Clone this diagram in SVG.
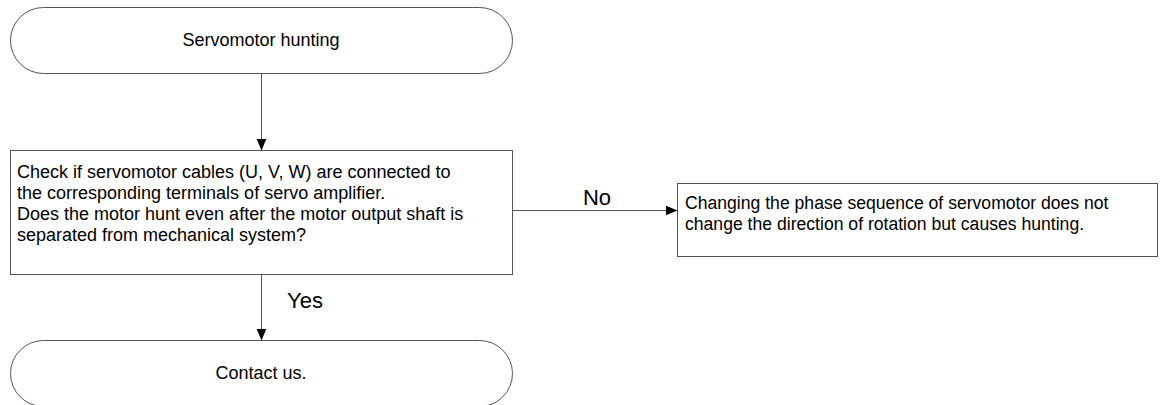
<svg xmlns="http://www.w3.org/2000/svg" width="1167" height="405" viewBox="0 0 1167 405">
<defs>
<style>
.shape{fill:#fff;stroke:#555;stroke-width:1}
.conn{stroke:#555;stroke-width:1;fill:none}
text{font-family:"Liberation Sans",Arial,sans-serif;font-size:18px;fill:#000}
.c{text-anchor:middle}
.lbl{font-size:22px}
.r{font-size:17.6px}
</style>
<marker id="ah" viewBox="0 0 12 10" refX="12" refY="5" markerWidth="12" markerHeight="10" markerUnits="userSpaceOnUse" orient="auto">
<path d="M0,0 L12,5 L0,10 Z" fill="#000"/>
</marker>
</defs>
<rect width="1167" height="405" fill="#fff"/>
<g id="start">
<rect class="shape" x="10.5" y="7.5" width="502" height="66" rx="33" ry="33"/>
<text class="c" x="261" y="46">Servomotor hunting</text>
</g>
<g id="check">
<rect class="shape" x="10.5" y="150.5" width="502" height="124"/>
<text x="17" y="178">Check if servomotor cables (U, V, W) are connected to</text>
<text x="17" y="199">the corresponding terminals of servo amplifier.</text>
<text x="17" y="220">Does the motor hunt even after the motor output shaft is</text>
<text x="17" y="241">separated from mechanical system?</text>
</g>
<g id="cause">
<rect class="shape" x="677.5" y="183.5" width="480" height="73"/>
<text class="r" x="685" y="209">Changing the phase sequence of servomotor does not</text>
<text class="r" x="685" y="230">change the direction of rotation but causes hunting.</text>
</g>
<g id="contact">
<rect class="shape" x="10.5" y="340.5" width="502" height="66" rx="33" ry="33"/>
<text class="c" x="261" y="379">Contact us.</text>
</g>
<g id="connectors">
<line class="conn" x1="261.5" y1="73.5" x2="261.5" y2="150.5" marker-end="url(#ah)"/>
<line class="conn" x1="512.5" y1="210.5" x2="677.5" y2="210.5" marker-end="url(#ah)"/>
<line class="conn" x1="261.5" y1="274.5" x2="261.5" y2="340.5" marker-end="url(#ah)"/>
<text class="lbl c" x="597" y="205">No</text>
<text class="lbl" x="287" y="308">Yes</text>
</g>
</svg>
